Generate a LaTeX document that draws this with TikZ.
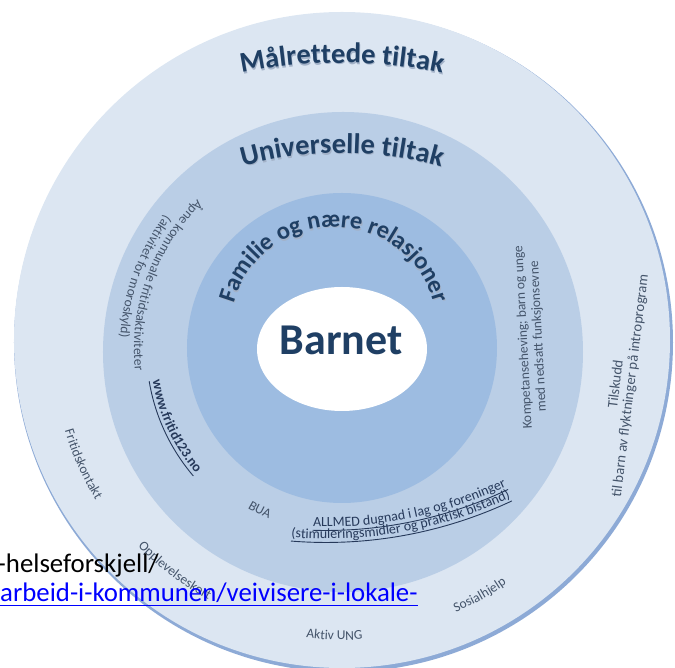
\documentclass[tikz,border=0pt]{standalone}
\usepackage{fontspec}
\setmainfont{Carlito}
\usetikzlibrary{decorations.text}

\definecolor{ringout}{HTML}{DCE6F2}
\definecolor{ringrim}{HTML}{8DAAD6}
\definecolor{ringmid}{HTML}{BACEE6}
\definecolor{ringin}{HTML}{9DBCE1}
\definecolor{navytext}{HTML}{1F3F64}
\definecolor{shadetext}{HTML}{A3B2C8}
\definecolor{greytext}{HTML}{44546A}
\definecolor{darklbl}{HTML}{26395A}
\definecolor{linkblue}{HTML}{0000FF}

\newcommand{\hdfont}{\fontsize{28.5}{30}\selectfont\bfseries}
\newcommand{\famfont}{\fontsize{24.5}{26}\selectfont\bfseries}
\newcommand{\barnfont}{\fontsize{44}{46}\selectfont\bfseries}
\newcommand{\lblfont}{\fontsize{13.5}{15}\selectfont}
\newcommand{\wwwfont}{\fontsize{14}{15}\selectfont\bfseries}
\newcommand{\allfont}{\fontsize{14}{15}\selectfont}
\newcommand{\docfont}{\fontsize{26.8}{30}\selectfont}

\begin{document}
\begin{tikzpicture}[x=1pt,y=1pt,
    arctitle/.style 2 args={decorate,decoration={text along path,text align=center,text color=#2,text={|\hdfont|#1}}},
    arcfam/.style 2 args={decorate,decoration={text along path,text align=center,text color=#2,text={|\famfont|#1}}},
    arclbl/.style={decorate,decoration={text along path,text align=center,text color=greytext,text={|\lblfont|#1}}},
    arcwww/.style={decorate,decoration={text along path,text align=center,text color=darklbl,text={|\wwwfont|#1}}},
    arcall/.style={decorate,decoration={text along path,text align=center,text color=darklbl,text={|\allfont|#1}}},
    underln/.style={darklbl,line width=0.9}]

    % Page size
    \useasboundingbox (-342,-319) rectangle (333,349);

    % Outer ring: Malrettede tiltak
    \fill [ringrim] (1.5,6.5) circle (329.5);
    \fill [ringout] (0,9) circle (328);

    % Middle ring: Universelle tiltak
    \fill [ringmid] (1,-3) circle (240);

    % Inner ring: Familie
    \fill [ringin] (0,1) circle (155);

    % Barnet
    \fill [white] (0,0) ellipse (85 and 62);
    \node [anchor=base,font=\barnfont,text=navytext] (barnet) at (-1,-6) {Barnet};

    % Ring titles (soft shadow first)
    \path [arctitle={Målrettede tiltak}{shadetext},shift={(0.8,-220.5)}] (110:505) arc [start angle=110,end angle=70,radius=505];
    \path [arctitle={Målrettede tiltak}{navytext},shift={(0,-219)}] (110:505) arc [start angle=110,end angle=70,radius=505];
    \path [arctitle={Universelle tiltak}{shadetext},shift={(0.8,-176.5)}] (115:371) arc [start angle=115,end angle=65,radius=371];
    \path [arctitle={Universelle tiltak}{navytext},shift={(0,-175)}] (115:371) arc [start angle=115,end angle=65,radius=371];
    \path [arcfam={Familie og nære relasjoner}{shadetext},shift={(-7.2,16.5)}] (180:104) arc [start angle=180,end angle=0,radius=104];
    \path [arcfam={Familie og nære relasjoner}{navytext},shift={(-8,18)}] (180:104) arc [start angle=180,end angle=0,radius=104];

    % Universelle tiltak, left side
    \path [arclbl={Åpne kommunale fritidsaktiviteter}] (120:208) arc [start angle=120,end angle=200,radius=208];
    \path [arclbl={(aktivitet for moroskyld)}] (125:222) arc [start angle=125,end angle=195,radius=222];
    \path [arcwww={www.fritid123.no}] (185:192) arc [start angle=185,end angle=225,radius=192];
    \draw [underln] (189.5:195.5) arc [start angle=189.5,end angle=220.5,radius=195.5];

    % Universelle tiltak, bottom
    \path [arclbl={BUA}] (235:185) arc [start angle=235,end angle=251,radius=185];
    \path [arcall={ALLMED dugnad i lag og foreninger},shift={(-16,243)}] (258:421) arc [start angle=258,end angle=305.6,radius=421];
    \path [arcall={(stimuleringsmidler og praktisk bistand)},shift={(-16,243)}] (255:433) arc [start angle=255,end angle=305.6,radius=433];
    \draw [underln,shift={(-16,243)}] (268.2:424.5) arc [start angle=268.2,end angle=295.4,radius=424.5];
    \draw [underln,shift={(-16,243)}] (265.4:436.5) arc [start angle=265.4,end angle=295.2,radius=436.5];

    % Universelle tiltak, right side
    \node [rotate=93,align=center,font=\lblfont,text=greytext] (kompetanse) at (189,12)
        {Kompetanseheving; barn og unge\\med nedsatt funksjonsevne};

    % Malrettede tiltak
    \path [arclbl={Fritidskontakt}] (190:289) arc [start angle=190,end angle=218,radius=289];
    \path [arclbl={Opplevelseskort}] (220:284) arc [start angle=220,end angle=246,radius=284];
    \path [arclbl={Aktiv UNG}] (258:291) arc [start angle=258,end angle=279,radius=291];
    \path [arclbl={Sosialhjelp}] (289.2:287) arc [start angle=289.2,end angle=309.2,radius=287];
    \node [rotate=83,align=center,font=\fontsize{14.5}{14.5}\selectfont,text=greytext] (tilskudd) at (281.5,-36)
        {Tilskudd\\til barn av flyktninger på introprogram};

    % Document text over the picture
    \node [anchor=base east,inner sep=0,font=\docfont] (helse) at (-183,-224) {-helseforskjell/};
    \node [anchor=base west,inner sep=0,font=\docfont,text=linkblue] (lenke) at (-342,-253) {arbeid-i-kommunen/veivisere-i-lokale-};
    \draw [linkblue,line width=1.5] ([yshift=-3.5]lenke.base west) -- ([yshift=-3.5]lenke.base east);

\end{tikzpicture}
\end{document}
